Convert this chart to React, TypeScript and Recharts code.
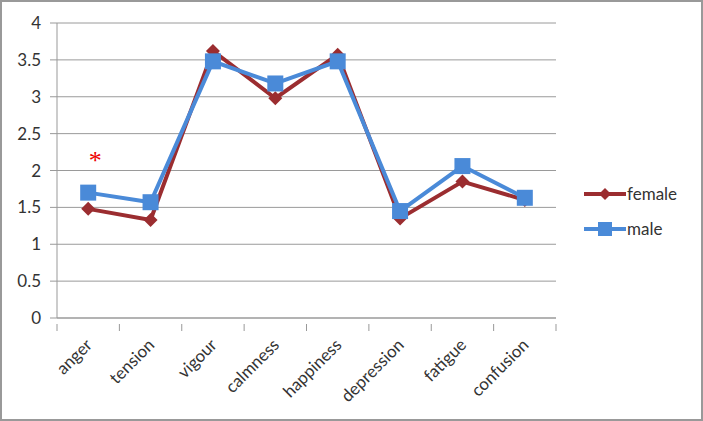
import React from 'react';
import { LineChart, Line, XAxis, YAxis, CartesianGrid, ReferenceDot } from 'recharts';

const categories = ['anger', 'tension', 'vigour', 'calmness', 'happiness', 'depression', 'fatigue', 'confusion'];
const female = [1.48, 1.33, 3.62, 2.98, 3.57, 1.35, 1.85, 1.6];
const male = [1.7, 1.57, 3.48, 3.18, 3.48, 1.45, 2.06, 1.63];
const yTicks = [0, 0.5, 1, 1.5, 2, 2.5, 3, 3.5, 4];

const FEMALE = '#9b2d30';
const MALE = '#4a8ad8';
const FONT = 'Lato, "Open Sans", sans-serif';

const W = 703;
const H = 421;
const M = { top: 23, right: 147, left: 0, bottom: 0 };
const Y_W = 57;
const BAND = (W - Y_W - M.right) / categories.length;

const data = categories.map((name, i) => ({ name, female: female[i], male: male[i] }));

function Diamond({ cx, cy }: any) {
  if (cx == null || cy == null) return null;
  return <path d={`M${cx},${cy - 7} L${cx + 7},${cy} L${cx},${cy + 7} L${cx - 7},${cy} Z`} fill={FEMALE} />;
}

function Square({ cx, cy }: any) {
  if (cx == null || cy == null) return null;
  return <rect x={cx - 8} y={cy - 8} width={16} height={16} fill={MALE} />;
}

function XTick({ x, y, payload, index }: any) {
  const last = index === categories.length - 1;
  const tx = x + 5;
  const ty = y + 22;
  return (
    <g>
      <line x1={x - BAND / 2} y1={y} x2={x - BAND / 2} y2={y + 7} stroke="#999" />
      {last && <line x1={x + BAND / 2} y1={y} x2={x + BAND / 2} y2={y + 7} stroke="#999" />}
      <text
        x={tx}
        y={ty}
        textAnchor="end"
        transform={`rotate(-45 ${tx} ${ty})`}
        fill="#333"
        fontSize={17}
        fontFamily={FONT}
      >
        {payload.value}
      </text>
    </g>
  );
}

function LegendBox() {
  const items = [
    { label: 'female', color: FEMALE, marker: 'diamond' },
    { label: 'male', color: MALE, marker: 'square' },
  ];
  return (
    <div style={{ position: 'absolute', left: 584, top: 176 }}>
      {items.map((it) => (
        <div key={it.label} style={{ display: 'flex', alignItems: 'center', height: 35 }}>
          <svg width={42} height={20}>
            <line x1={0} y1={10} x2={42} y2={10} stroke={it.color} strokeWidth={4} />
            {it.marker === 'diamond' ? (
              <path d="M21,4 L27,10 L21,16 L15,10 Z" fill={it.color} />
            ) : (
              <rect x={14} y={3} width={14} height={14} fill={it.color} />
            )}
          </svg>
          <span style={{ fontFamily: FONT, fontSize: 17, color: '#333', marginLeft: 1 }}>{it.label}</span>
        </div>
      ))}
    </div>
  );
}

export default function App() {
  return (
    <div style={{ position: 'absolute', left: 0, top: 0, width: W, height: H, background: '#fff' }}>
      <LineChart width={W} height={H} data={data} margin={M}>
        <CartesianGrid vertical={false} stroke="#9a9a9a" />
        <XAxis
          dataKey="name"
          height={103}
          padding={{ left: BAND / 2, right: BAND / 2 }}
          tickLine={false}
          tickMargin={0}
          axisLine={{ stroke: '#999' }}
          tick={<XTick />}
          interval={0}
        />
        <YAxis
          width={Y_W}
          domain={[0, 4]}
          ticks={yTicks}
          tickSize={7}
          tickMargin={9}
          tickLine={{ stroke: '#999' }}
          axisLine={{ stroke: '#999' }}
          tick={{ fill: '#333', fontSize: 17, fontFamily: FONT }}
        />
        <Line
          dataKey="female"
          stroke={FEMALE}
          strokeWidth={4}
          dot={<Diamond />}
          activeDot={false}
          isAnimationActive={false}
        />
        <Line
          dataKey="male"
          stroke={MALE}
          strokeWidth={4}
          dot={<Square />}
          activeDot={false}
          isAnimationActive={false}
        />
        <ReferenceDot
          x="anger"
          y={2.15}
          r={0}
          label={{ value: '*', fill: '#e00', fontSize: 26, position: 'center', dx: 7 }}
        />
      </LineChart>
      <LegendBox />
      <div
        style={{
          position: 'absolute',
          left: 0,
          top: 0,
          width: W,
          height: H,
          border: '2px solid #999',
          boxSizing: 'border-box',
          pointerEvents: 'none',
        }}
      />
    </div>
  );
}
